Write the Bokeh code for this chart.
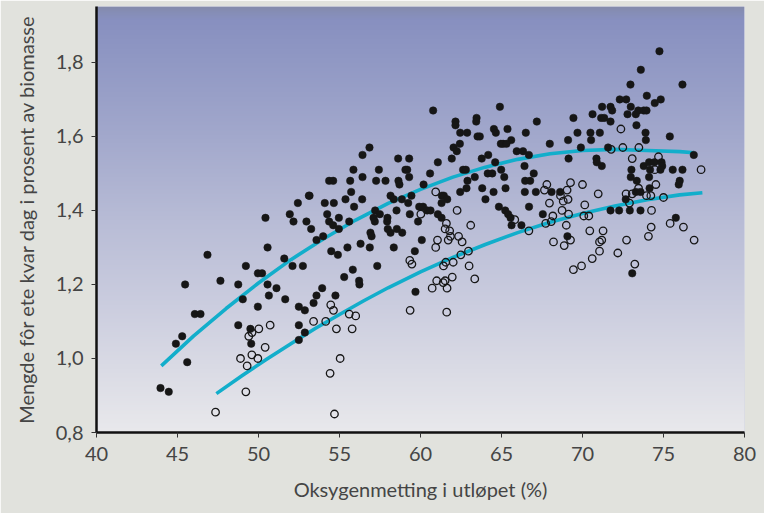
import numpy as np
from bokeh.plotting import figure
from bokeh.models import Range1d, FixedTicker
from bokeh.embed import file_html
from bokeh.resources import INLINE

# ---------------- data ----------------
x_ticks = [40, 45, 50, 55, 60, 65, 70, 75, 80]
y_ticks = [0.8, 1.0, 1.2, 1.4, 1.6, 1.8]
y_tick_labels = ["0,8", "1,0", "1,2", "1,4", "1,6", "1,8"]

x_label = "Oksygenmetting i utløpet (%)"
y_label = "Mengde fôr ete kvar dag i prosent av biomasse"

filled_x = [
    43.95, 44.46, 45.47, 44.90, 45.29, 45.60, 46.07, 46.42, 46.85, 47.65, 48.75, 49.22, 49.03, 49.96, 49.96,
    48.75, 49.50, 49.55, 50.64, 51.65, 52.49, 52.86, 53.40, 53.58, 52.49, 52.49, 52.86, 50.22, 50.56, 51.11,
    50.43, 50.56, 51.59, 52.10, 52.74, 51.93, 52.43, 53.11, 52.16, 52.96, 53.25, 53.58, 53.93, 54.49, 54.90,
    55.49, 55.82, 56.30, 56.87, 57.33, 55.29, 56.21, 56.23, 54.75, 54.36, 54.61, 54.96, 55.60, 53.99, 56.91,
    56.98, 57.18, 57.94, 57.98, 58.15, 58.54, 58.87, 58.35, 59.85, 60.08, 59.65, 59.69, 65.62, 66.23, 53.15,
    54.09, 54.65, 54.24, 54.96, 55.37, 55.72, 55.90, 56.40, 55.66, 56.42, 55.86, 56.42, 56.85, 54.36, 54.61,
    57.26, 57.43, 57.84, 58.15, 58.35, 57.20, 57.10, 57.49, 57.96, 58.52, 58.64, 58.70, 58.62, 59.30, 59.07,
    59.18, 59.30, 58.85, 59.24, 59.44, 59.34, 60.19, 60.59, 61.07, 60.78, 61.32, 61.44, 61.65, 61.30, 59.92,
    60.16, 60.41, 60.62, 61.07, 61.30, 61.93, 62.04, 62.24, 62.43, 62.16, 62.16, 62.45, 62.88, 63.46, 63.44,
    63.52, 63.66, 62.63, 62.80, 62.90, 63.35, 62.45, 62.84, 63.78, 64.18, 63.81, 64.01, 64.15, 64.43, 64.61,
    64.51, 64.53, 64.65, 64.90, 65.37, 65.60, 64.96, 65.10, 65.31, 64.98, 65.17, 65.25, 64.84, 65.23, 65.41,
    65.56, 65.94, 66.33, 66.50, 66.44, 74.75, 73.60, 72.96, 76.17, 72.30, 72.70, 73.97, 74.83, 74.46, 72.98,
    71.21, 71.73, 71.83, 73.44, 73.78, 73.95, 70.62, 71.15, 71.34, 71.73, 72.78, 73.29, 69.44, 67.18, 73.33,
    73.89, 69.69, 70.49, 71.07, 69.11, 70.53, 73.91, 75.39, 67.98, 69.90, 71.58, 66.69, 66.42, 69.14, 70.86,
    70.88, 71.19, 76.87, 73.78, 74.11, 74.44, 74.88, 74.92, 74.81, 73.02, 72.98, 74.17, 74.11, 75.57, 76.17,
    66.99, 66.46, 66.77, 73.35, 75.94, 76.00, 67.12, 68.09, 68.62, 66.70, 67.55, 69.07, 73.29, 73.58, 74.14,
    72.67, 71.73, 72.26, 72.92, 73.58, 75.76, 73.07,
]
filled_y = [
    0.92, 0.91, 1.20, 1.04, 1.06, 0.99, 1.12, 1.12, 1.28, 1.21, 1.20, 1.25, 1.16, 1.23, 1.14,
    1.09, 1.08, 1.04, 1.17, 1.16, 1.14, 1.13, 1.15, 1.17, 1.09, 1.05, 1.07, 1.23, 1.20, 1.19,
    1.38, 1.30, 1.27, 1.25, 1.25, 1.39, 1.42, 1.44, 1.37, 1.37, 1.35, 1.32, 1.19, 1.29, 1.28,
    1.30, 1.24, 1.31, 1.30, 1.25, 1.22, 1.21, 1.20, 1.17, 1.37, 1.36, 1.35, 1.37, 1.33, 1.34,
    1.33, 1.37, 1.37, 1.35, 1.34, 1.35, 1.34, 1.30, 1.37, 1.32, 1.29, 1.18, 1.36, 1.36, 1.44,
    1.42, 1.42, 1.39, 1.38, 1.43, 1.45, 1.41, 1.43, 1.48, 1.49, 1.51, 1.55, 1.57, 1.48, 1.48,
    1.48, 1.51, 1.48, 1.44, 1.43, 1.40, 1.38, 1.39, 1.38, 1.40, 1.48, 1.47, 1.54, 1.54, 1.51,
    1.51, 1.49, 1.43, 1.42, 1.44, 1.39, 1.47, 1.50, 1.53, 1.67, 1.44, 1.44, 1.43, 1.42, 1.41,
    1.41, 1.40, 1.40, 1.39, 1.38, 1.54, 1.57, 1.56, 1.58, 1.64, 1.63, 1.61, 1.61, 1.65, 1.64,
    1.60, 1.60, 1.51, 1.51, 1.48, 1.49, 1.45, 1.46, 1.54, 1.55, 1.46, 1.43, 1.50, 1.50, 1.53,
    1.45, 1.62, 1.61, 1.68, 1.62, 1.59, 1.58, 1.58, 1.58, 1.51, 1.49, 1.46, 1.41, 1.40, 1.39,
    1.38, 1.56, 1.56, 1.61, 1.45, 1.83, 1.78, 1.74, 1.74, 1.70, 1.70, 1.71, 1.70, 1.69, 1.68,
    1.68, 1.68, 1.67, 1.67, 1.67, 1.67, 1.66, 1.65, 1.65, 1.64, 1.66, 1.66, 1.65, 1.64, 1.63,
    1.61, 1.61, 1.61, 1.61, 1.59, 1.59, 1.59, 1.60, 1.58, 1.57, 1.57, 1.55, 1.52, 1.54, 1.54,
    1.53, 1.52, 1.55, 1.52, 1.53, 1.53, 1.53, 1.52, 1.51, 1.51, 1.49, 1.51, 1.49, 1.51, 1.51,
    1.50, 1.48, 1.48, 1.48, 1.47, 1.48, 1.45, 1.45, 1.45, 1.41, 1.39, 1.33, 1.45, 1.45, 1.46,
    1.43, 1.40, 1.40, 1.40, 1.40, 1.38, 1.23,
]

open_x = [
    47.35, 48.89, 49.22, 49.30, 49.59, 49.40, 49.60, 50.02, 49.96, 50.41, 50.72, 53.40,
    54.46, 54.63, 54.15, 54.81, 55.60, 56.00, 55.78, 55.04, 54.42, 54.69,
    59.34, 59.47, 59.36, 61.62, 60.72, 61.00, 61.40, 61.52, 61.64, 61.96, 61.42, 61.56, 62.02, 62.49,
    62.96, 63.00, 63.35, 60.94, 61.05, 61.60, 61.52, 61.80, 61.71, 61.85, 62.35, 62.57, 63.10,
    60.94, 60.02, 62.26, 65.82,
    72.37, 71.77, 72.49, 73.48, 73.07, 74.69, 74.46, 77.32, 67.80, 69.26, 70.00, 74.53, 73.46,
    67.65, 68.64, 69.05, 69.11, 68.81, 67.96, 70.97, 68.74, 69.14, 70.14, 68.17, 68.07, 67.73, 66.69,
    69.00, 70.08, 70.39, 70.45, 71.27, 68.21, 68.87, 69.26, 71.05, 71.19, 71.05, 70.60, 69.94, 69.44,
    72.18, 72.72, 73.23, 72.69, 73.07, 73.95, 74.22, 72.90, 74.26, 74.24, 74.07, 75.41, 76.23, 76.89,
    75.00,
]
open_y = [
    0.855, 1.00, 0.91, 0.98, 1.01, 1.06, 1.07, 1.08, 1.00, 1.03, 1.09, 1.10,
    1.145, 1.13, 1.10, 1.08, 1.12, 1.115, 1.08, 1.00, 0.96, 0.85,
    1.265, 1.255, 1.13, 1.125, 1.19, 1.21, 1.205, 1.21, 1.19, 1.22, 1.25, 1.26, 1.26, 1.28,
    1.29, 1.25, 1.215, 1.30, 1.32, 1.365, 1.35, 1.345, 1.32, 1.33, 1.33, 1.315, 1.36,
    1.45, 1.39, 1.40, 1.375,
    1.62, 1.565, 1.57, 1.57, 1.54, 1.545, 1.51, 1.51, 1.47, 1.475, 1.47, 1.47, 1.46,
    1.455, 1.44, 1.455, 1.43, 1.425, 1.42, 1.445, 1.40, 1.39, 1.415, 1.385, 1.37, 1.365, 1.345,
    1.36, 1.385, 1.385, 1.345, 1.345, 1.315, 1.305, 1.32, 1.315, 1.32, 1.29, 1.27, 1.25, 1.24,
    1.285, 1.32, 1.255, 1.445, 1.445, 1.44, 1.44, 1.42, 1.40, 1.355, 1.33, 1.365, 1.355, 1.32,
    1.435,
]

# fitted curves as drawn in the picture
curve_filled_x = [44, 46, 48, 50, 52, 54, 56, 58, 60, 62, 64, 66, 68, 70, 72, 74, 76, 76.9]
curve_filled_y = [0.98, 1.061, 1.135, 1.204, 1.267, 1.323, 1.374, 1.419, 1.457, 1.490, 1.517,
                  1.538, 1.553, 1.562, 1.565, 1.562, 1.559, 1.556]
curve_open_x = [47.4, 49, 50.5, 52, 53.5, 55, 56.5, 58, 60, 62, 64, 66, 68, 70, 72, 74, 76, 77.4]
curve_open_y = [0.905, 0.954, 0.998, 1.040, 1.081, 1.119, 1.156, 1.191, 1.234, 1.273, 1.308,
                1.340, 1.368, 1.392, 1.412, 1.429, 1.442, 1.448]

# ---------------- figure ----------------
FONT = "Lato"
TXT = "#454545"

p = figure(width=764, height=513, output_backend="svg", toolbar_location=None,
           x_range=Range1d(40, 80), y_range=Range1d(0.8, 1.951))
p.min_border_left = 96
p.min_border_right = 20
p.min_border_top = 6
p.min_border_bottom = 81
p.border_fill_color = "#e1e2dd"
p.background_fill_color = "#c0c3d8"
p.outline_line_color = None
p.grid.visible = False

# vertical gradient background of the plotting area
stops_pos = np.array([0.0, 0.012, 0.03, 0.12, 0.3, 0.5, 0.7, 0.85, 1.0])
stops_col = np.array([
    [0x84, 0x8b, 0xab], [0x86, 0x8e, 0xb6], [0x88, 0x90, 0xc0], [0x90, 0x98, 0xc4],
    [0xa2, 0xa8, 0xcc], [0xb8, 0xbc, 0xd6], [0xcb, 0xcd, 0xdf], [0xda, 0xdb, 0xe5],
    [0xe9, 0xe9, 0xec]], dtype=float)
N = 426
frac_top = 1.0 - np.arange(N) / (N - 1)  # row 0 = bottom
img = np.empty((N, 2), dtype=np.uint32)
view = img.view(dtype=np.uint8).reshape((N, 2, 4))
for c in range(3):
    view[:, :, c] = np.interp(frac_top, stops_pos, stops_col[:, c])[:, None].astype(np.uint8)
view[:, :, 3] = 255
p.image_rgba(image=[img], x=40, y=0.8, dw=40, dh=1.151, level="image")

# curves
p.line(curve_filled_x, curve_filled_y, line_color="#12aecb", line_width=3.6, line_join="round")
p.line(curve_open_x, curve_open_y, line_color="#12aecb", line_width=3.6, line_join="round")

# points
p.scatter(filled_x, filled_y, marker="circle", size=7.5,
          fill_color="#161616", line_color="#161616", line_width=0.5)
p.scatter(open_x, open_y, marker="circle", size=7.5,
          fill_color=None, line_color="#161616", line_width=1.3)

# axes
p.xaxis.ticker = FixedTicker(ticks=x_ticks)
p.yaxis.ticker = FixedTicker(ticks=y_ticks)
p.yaxis.major_label_overrides = dict(zip(y_ticks, y_tick_labels))
p.xaxis.axis_label = x_label
p.yaxis.axis_label = y_label
for ax in (p.xaxis, p.yaxis):
    ax.axis_line_color = "#111111"
    ax.axis_line_width = 2.5
    ax.major_tick_line_color = "#333333"
    ax.major_tick_line_width = 1
    ax.major_tick_in = 0
    ax.major_tick_out = 5
    ax.minor_tick_line_color = None
    ax.major_label_text_font = FONT
    ax.major_label_text_font_size = "20px"
    ax.major_label_text_color = TXT
    ax.axis_label_text_font = FONT
    ax.axis_label_text_font_size = "20px"
    ax.axis_label_text_font_style = "normal"
    ax.axis_label_text_color = TXT
p.xaxis.major_label_standoff = 9
p.xaxis.axis_label_standoff = 13
p.yaxis.major_label_standoff = 8
p.yaxis.axis_label_standoff = 15

open("out.html", "w").write(file_html(p, INLINE))
